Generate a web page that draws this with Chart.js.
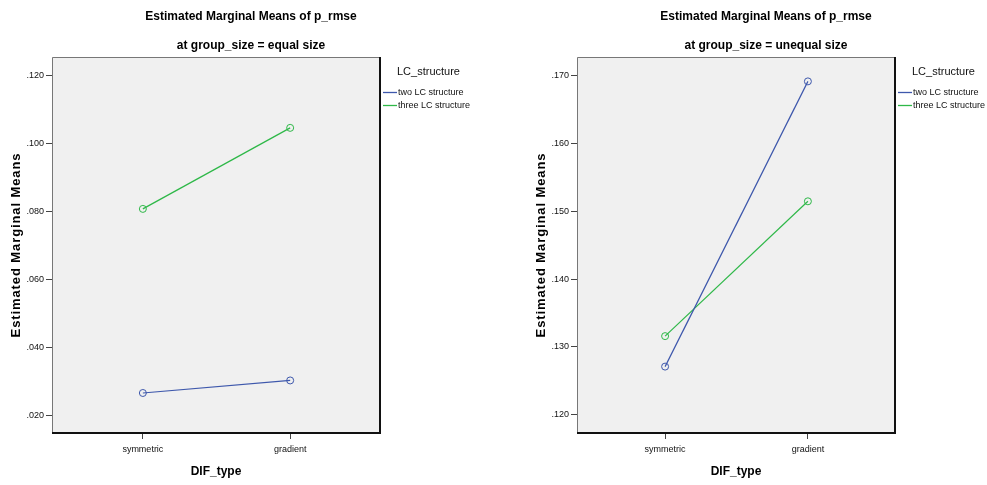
<!DOCTYPE html>
<html>
<head>
<meta charset="utf-8">
<script src="https://cdn.jsdelivr.net/npm/chart.js@4/dist/chart.umd.min.js"></script>
<style>
  html, body { margin: 0; padding: 0; background: #fff; }
  #wrap { position: relative; width: 987px; height: 485px; }
  .panel { position: absolute; top: 0; height: 485px; }
  #left { left: 0; width: 520px; }
  #right { left: 520px; width: 467px; }
</style>
</head>
<body>
<div id="wrap">
  <div class="panel" id="left"><canvas id="cLeft" width="520" height="485"></canvas></div>
  <div class="panel" id="right"><canvas id="cRight" width="467" height="485"></canvas></div>
</div>
<script>
// Factor levels and series
const categories = ['symmetric', 'gradient'];
const seriesNames = ['two LC structure', 'three LC structure'];
const legendTitle = 'LC_structure';

// Estimated marginal means of p_rmse, group_size = equal size
const equalTwo = [0.0265, 0.0302];
const equalThree = [0.0808, 0.1047];

// Estimated marginal means of p_rmse, group_size = unequal size
const unequalTwo = [0.1271, 0.1692];
const unequalThree = [0.1316, 0.1515];

// Y tick values for each panel
const equalTicks = [0.020, 0.040, 0.060, 0.080, 0.100, 0.120];
const unequalTicks = [0.120, 0.130, 0.140, 0.150, 0.160, 0.170];

const titleMain = 'Estimated Marginal Means of p_rmse';
const titleEqual = 'at group_size = equal size';
const titleUnequal = 'at group_size = unequal size';
const yTitle = 'Estimated Marginal Means';
const xTitle = 'DIF_type';

const seriesColors = ['#3E58AC', '#2EB848'];
const FONT = "'Liberation Sans', Arial, sans-serif";

function fmt(v) {
  return v.toFixed(3).replace(/^0/, '');
}

const framePlugin = {
  id: 'frame',
  beforeDatasetsDraw(chart) {
    const a = chart.chartArea;
    const ctx = chart.ctx;
    ctx.save();
    ctx.fillStyle = '#f0f0f0';
    ctx.fillRect(a.left, a.top, a.right - a.left, a.bottom - a.top);
    ctx.restore();
  },
  afterDraw(chart) {
    const a = chart.chartArea;
    const o = chart.options.plugins.frame;
    const ctx = chart.ctx;
    ctx.save();
    // plot frame
    ctx.strokeStyle = '#777';
    ctx.lineWidth = 1;
    ctx.beginPath();
    ctx.moveTo(a.left + 0.5, a.bottom);
    ctx.lineTo(a.left + 0.5, a.top + 0.5);
    ctx.lineTo(a.right, a.top + 0.5);
    ctx.stroke();
    ctx.strokeStyle = '#111';
    ctx.lineWidth = 2;
    ctx.beginPath();
    ctx.moveTo(a.right, a.top);
    ctx.lineTo(a.right, a.bottom);
    ctx.lineTo(a.left, a.bottom);
    ctx.stroke();

    // titles
    ctx.fillStyle = '#000';
    ctx.textAlign = 'center';
    ctx.textBaseline = 'middle';
    ctx.font = 'bold 12px ' + FONT;
    ctx.fillText(titleMain, o.titleX, 17);
    ctx.fillText(o.subtitle, o.titleX, 46);

    // vertical axis title
    ctx.save();
    ctx.translate(a.left - 36, (a.top + a.bottom) / 2);
    ctx.rotate(-Math.PI / 2);
    ctx.font = 'bold 13px ' + FONT;
    ctx.letterSpacing = '0.9px';
    ctx.fillText(yTitle, 0, 0);
    ctx.restore();

    // legend
    ctx.textAlign = 'left';
    ctx.textBaseline = 'middle';
    ctx.font = '11px ' + FONT;
    ctx.fillStyle = '#111';
    ctx.fillText(legendTitle, a.right + 17, 72);
    ctx.font = '9px ' + FONT;
    seriesNames.forEach((name, i) => {
      const y = 92 + i * 13;
      ctx.strokeStyle = seriesColors[i];
      ctx.lineWidth = 1.3;
      ctx.beginPath();
      ctx.moveTo(a.right + 3, y + 0.5);
      ctx.lineTo(a.right + 17, y + 0.5);
      ctx.stroke();
      ctx.fillStyle = '#111';
      ctx.fillText(name, a.right + 18, y + 1);
    });
    ctx.restore();
  }
};

function makeChart(id, opts) {
  const datasets = opts.series.map((vals, i) => ({
    label: seriesNames[i],
    data: vals.map((v, j) => ({ x: j, y: v })),
    borderColor: seriesColors[i],
    backgroundColor: 'rgba(0,0,0,0)',
    borderWidth: 1.2,
    pointRadius: 3.5,
    pointBorderWidth: 1,
    pointBorderColor: seriesColors[i],
    pointBackgroundColor: 'rgba(0,0,0,0)',
    tension: 0
  }));
  return new Chart(document.getElementById(id), {
    type: 'line',
    data: { datasets },
    options: {
      responsive: false,
      animation: false,
      events: [],
      layout: { padding: { top: 57, right: opts.padRight, left: 0, bottom: 0 } },
      plugins: {
        legend: { display: false },
        title: { display: false },
        tooltip: { enabled: false },
        frame: { titleX: opts.titleX, subtitle: opts.subtitle }
      },
      scales: {
        x: {
          type: 'linear',
          min: -0.617,
          max: 1.61,
          afterBuildTicks(scale) {
            scale.ticks = categories.map((c, i) => ({ value: i }));
          },
          afterFit(scale) { scale.height = 52; },
          border: { display: false },
          grid: { drawOnChartArea: false, drawTicks: true, tickLength: 6, color: '#444', lineWidth: 1 },
          ticks: {
            autoSkip: false,
            maxRotation: 0,
            padding: 5,
            color: '#111',
            font: { family: FONT, size: 9 },
            callback: (v) => categories[v]
          },
          title: {
            display: true,
            text: xTitle,
            color: '#000',
            font: { family: FONT, size: 12, weight: 'bold' },
            padding: { top: 0, bottom: 6 }
          }
        },
        y: {
          type: 'linear',
          min: opts.yMin,
          max: opts.yMax,
          afterBuildTicks(scale) {
            scale.ticks = opts.ticks.map(v => ({ value: v }));
          },
          afterFit(scale) { scale.width = opts.axisWidth; },
          border: { display: false },
          grid: { drawOnChartArea: false, drawTicks: true, tickLength: 6, color: '#444', lineWidth: 1 },
          ticks: {
            padding: 2,
            color: '#111',
            font: { family: FONT, size: 9 },
            callback: (v) => fmt(v)
          },
          title: { display: false }
        }
      }
    },
    plugins: [framePlugin]
  });
}

makeChart('cLeft', {
  series: [equalTwo, equalThree],
  ticks: equalTicks,
  yMin: 0.0147,
  yMax: 0.1256,
  padRight: 140,
  axisWidth: 52,
  titleX: 251,
  subtitle: titleEqual
});

makeChart('cRight', {
  series: [unequalTwo, unequalThree],
  ticks: unequalTicks,
  yMin: 0.1173,
  yMax: 0.1728,
  padRight: 92,
  axisWidth: 57,
  titleX: 246,
  subtitle: titleUnequal
});
</script>
</body>
</html>
